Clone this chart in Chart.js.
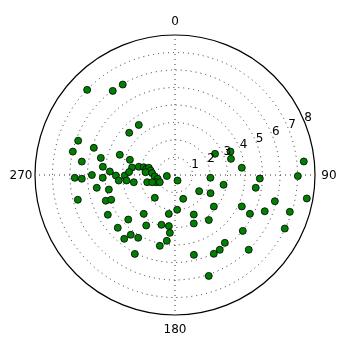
<!DOCTYPE html>
<html>
<head>
<meta charset="utf-8">
<script src="https://cdn.jsdelivr.net/npm/chart.js@4"></script>
<style>
  body { margin: 0; background: #fff; }
  #wrap { width: 350px; height: 350px; }
</style>
</head>
<body>
<div id="wrap"><canvas id="polarChart"></canvas></div>
<script>
// angle in degrees, clockwise from north (0 at top)
const thetaDeg = [
  314.1, 323.5, 330.0, 324.1, 289.5, 282.9, 288.5, 278.2, 283.0, 290.1,
  312.7, 288.6, 276.5, 273.1, 270.0, 268.4, 267.7, 267.8, 269.5, 269.4,
  264.4, 263.5, 279.9, 273.7, 260.7, 257.6, 255.7, 249.6, 248.8, 239.4,
  260.1, 282.8, 284.0, 282.1, 285.4, 280.4, 275.4, 274.5, 265.8, 257.5,
  249.0, 244.7, 255.5, 252.5, 263.0, 155.6, 221.5, 161.0, 123.8, 94.5,
  117.1, 101.4, 62.1, 129.1, 218.8, 189.1, 176.4, 154.6, 158.8, 226.4,
  209.7, 195.2, 186.9, 143.1, 67.1, 73.9, 83.8, 84.0, 90.5, 92.4,
  99.0, 104.7, 115.2, 117.4, 112.0, 107.8, 100.1, 216.5, 210.4, 185.1,
  187.1, 192.1, 218.5, 207.0, 166.7, 153.8, 149.1, 143.7, 161.5, 227.3,
  129.5, 135.4, 116.0
];
const radius = [
  6.99, 5.98, 5.97, 3.53, 5.87, 5.99, 4.89, 5.38, 4.35, 3.36,
  3.56, 2.72, 4.15, 3.73, 4.75, 5.73, 5.33, 4.13, 3.38, 2.87,
  3.23, 2.79, 2.49, 2.63, 4.53, 3.87, 5.73, 4.22, 3.91, 4.46,
  2.39, 2.12, 1.84, 1.68, 1.55, 1.42, 1.69, 1.31, 1.16, 1.01,
  1.15, 0.96, 1.64, 1.37, 0.47, 0.35, 1.74, 1.44, 1.66, 2.03,
  2.28, 2.83, 2.59, 2.86, 2.85, 2.25, 1.99, 2.50, 2.97, 3.69,
  3.32, 2.95, 2.94, 3.22, 3.44, 3.33, 3.84, 7.40, 7.02, 4.85,
  4.67, 5.90, 4.22, 4.82, 5.53, 6.89, 7.65, 4.25, 4.16, 3.32,
  3.79, 4.14, 4.66, 5.06, 4.69, 5.02, 4.98, 4.81, 6.08, 4.45,
  5.02, 6.00, 6.98
];
const radialTicks = [1, 2, 3, 4, 5, 6, 7, 8];
const angleTicks = [0, 90, 180, 270];
const rMax = 8;

// polar -> cartesian so the linear x/y scales place the points
const points = thetaDeg.map(function (t, i) {
  const a = t * Math.PI / 180;
  return { x: radius[i] * Math.sin(a), y: radius[i] * Math.cos(a) };
});

const polarGrid = {
  id: "polarGrid",
  beforeDatasetsDraw(chart) {
    const ctx = chart.ctx;
    const xs = chart.scales.x, ys = chart.scales.y;
    const cx = xs.getPixelForValue(0), cy = ys.getPixelForValue(0);
    const unit = xs.getPixelForValue(1) - cx;
    ctx.save();
    ctx.strokeStyle = "#000";
    ctx.lineWidth = 0.8;
    ctx.setLineDash([1, 4]);
    radialTicks.forEach(function (r) {
      if (r >= rMax) return;
      ctx.beginPath();
      ctx.arc(cx, cy, r * unit, 0, Math.PI * 2);
      ctx.stroke();
    });
    angleTicks.forEach(function (t) {
      const a = t * Math.PI / 180;
      ctx.beginPath();
      ctx.moveTo(cx, cy);
      ctx.lineTo(cx + rMax * unit * Math.sin(a), cy - rMax * unit * Math.cos(a));
      ctx.stroke();
    });
    ctx.restore();
  },
  afterDatasetsDraw(chart) {
    const ctx = chart.ctx;
    const xs = chart.scales.x, ys = chart.scales.y;
    const cx = xs.getPixelForValue(0), cy = ys.getPixelForValue(0);
    const unit = xs.getPixelForValue(1) - cx;
    ctx.save();
    // outer frame
    ctx.strokeStyle = "#000";
    ctx.lineWidth = 1.2;
    ctx.beginPath();
    ctx.arc(cx, cy, rMax * unit, 0, Math.PI * 2);
    ctx.stroke();

    ctx.fillStyle = "#000";
    ctx.font = "12px 'DejaVu Sans'";
    // angle labels
    ctx.textAlign = "center";
    ctx.textBaseline = "middle";
    angleTicks.forEach(function (t) {
      const a = t * Math.PI / 180;
      const rr = rMax * 1.1 * unit;
      ctx.fillText(String(t), cx + rr * Math.sin(a), cy - rr * Math.cos(a) + 1);
    });
    // radial labels along 67.5 deg
    ctx.textAlign = "left";
    ctx.textBaseline = "alphabetic";
    const la = 67.5 * Math.PI / 180;
    radialTicks.forEach(function (r) {
      ctx.fillText(String(r), cx + r * unit * Math.sin(la), cy - r * unit * Math.cos(la));
    });
    ctx.restore();
  }
};

new Chart(document.getElementById("polarChart").getContext("2d"), {
  type: "scatter",
  data: {
    datasets: [
      {
        data: points,
        backgroundColor: "#008000",
        borderColor: "#000",
        borderWidth: 0.8,
        pointRadius: 3.5,
      },
    ],
  },
  options: {
    responsive: true,
    maintainAspectRatio: false,
    animation: false,
    layout: { padding: 35 },
    scales: {
      x: { type: "linear", min: -rMax, max: rMax, display: false },
      y: { type: "linear", min: -rMax, max: rMax, display: false },
    },
    plugins: {
      legend: { display: false },
      tooltip: { enabled: false },
    },
  },
  plugins: [polarGrid],
});
</script>
</body>
</html>
